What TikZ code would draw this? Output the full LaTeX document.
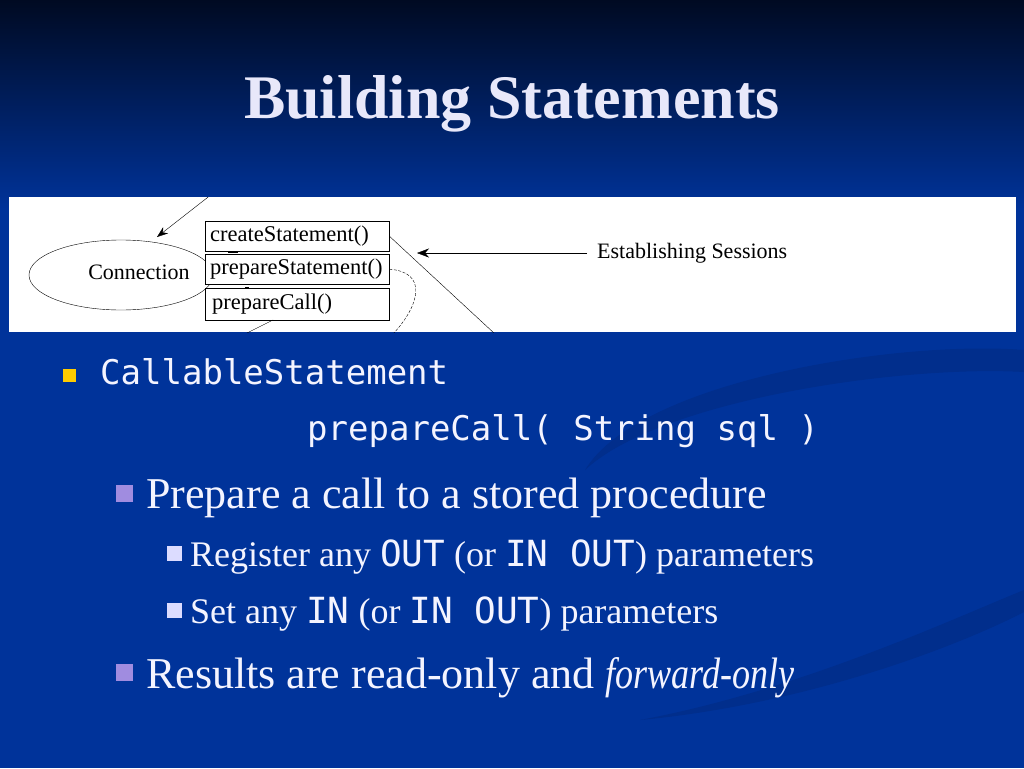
\documentclass[tikz,border=0pt]{standalone}
\usepackage{fontspec}
\setmainfont{Liberation Serif}
\setmonofont{DejaVu Sans Mono}
\usetikzlibrary{arrows.meta,shapes.geometric}

\definecolor{slidetop}{HTML}{000A22}
\definecolor{slideblue}{HTML}{00339A}
\definecolor{swoosh}{HTML}{012E8C}
\definecolor{titletext}{HTML}{E8E8FA}
\definecolor{bodytext}{HTML}{F4F4FF}
\definecolor{yellowbullet}{HTML}{FFCC00}
\definecolor{lavbullet}{HTML}{A08CE0}
\definecolor{palebullet}{HTML}{DCDCFF}

\begin{document}
\begin{tikzpicture}[x=1pt,y=-1pt]
    \tikzset{Method/.style = {draw, thin, fill=white, minimum width=184pt, minimum height=30pt,
                              inner xsep=5pt, inner ysep=3pt, anchor=north west, text width=174pt, align=left,
                              font=\fontsize{22.5}{24}\selectfont},
             DiagText/.style = {font=\fontsize{22}{24}\selectfont},
             Body/.style = {text=bodytext, anchor=base west, inner sep=0pt},
             Square/.style = {minimum size=#1, inner sep=0pt, anchor=north west}}
    % background
    \fill[top color=slidetop, bottom color=slideblue] (0,0) rectangle (1024,210);
    \fill[slideblue] (0,210) rectangle (1024,768);
    \fill[swoosh] (585,470) .. controls (640,380) and (900,340) .. (1024,350) -- (1024,372)
        .. controls (900,365) and (660,400) .. (585,470);
    \fill[swoosh] (640,720) .. controls (800,690) and (950,620) .. (1024,590) -- (1024,612)
        .. controls (950,650) and (800,705) .. (640,720);
    \useasboundingbox (0,0) rectangle (1024,768);
    % title
    \node[text=titletext, font=\fontsize{62}{70}\selectfont\bfseries, anchor=base] (title) at (512,118) {Building Statements};
    % diagram panel
    \fill[white] (9,197) rectangle (1016,332);
    \begin{scope}
    \clip (9,197) rectangle (1016,332);
    \node[draw, thin, ellipse, minimum width=184pt, minimum height=70pt] (conn) at (121,275) {};
    \node[DiagText] (connlabel) at (139,272) {Connection};
    \coordinate (topin) at (212,194);
    \draw[-{Stealth[length=11pt,width=8pt]}] (topin) -- (157,237);
    \draw[very thick] (228,252) -- (238,252);
    \draw[very thick] (245,288) -- (249,288);
    \node[Method] (create) at (205,221) {createStatement()};
    \node[Method] (prepare) at (205,254) {prepareStatement()};
    \node[Method, minimum height=32pt, text width=170pt, inner xsep=7pt] (call) at (205,288) {prepareCall()};
    \coordinate (diagend) at (495,334);
    \draw (create.east) -- (diagend);
    \coordinate (curveend) at (393,334);
    \draw[dash pattern=on 3pt off 1.5pt] (prepare.east) .. controls (428,272) and (420,305) .. (curveend);
    \coordinate (callstart) at (273,320);
    \coordinate (callend) at (245,334);
    \draw (callstart) -- (callend);
    \node[DiagText, anchor=west, inner sep=0pt] (sessions) at (597,253) {Establishing Sessions};
    \coordinate (sesstail) at (587,253);
    \draw[-{Stealth[length=12pt,width=9pt]}] (sesstail) -- (417,253);
    \end{scope}
    % bullets
    \node[Square=13pt, fill=yellowbullet] (b1) at (63,369) {};
    \node[Body, font=\fontsize{34}{40}\ttfamily] (callable) at (100,384) {CallableStatement};
    \node[Body, font=\fontsize{34}{40}\ttfamily] (sig) at (307,440) {prepareCall( String sql )};
    \node[Square=17pt, fill=lavbullet] (b2) at (116,485) {};
    \node[Body, font=\fontsize{44}{50}\selectfont] (prep) at (146,508) {Prepare a call to a stored procedure};
    \node[Square=15pt, fill=palebullet] (b3) at (167,546) {};
    \node[Body, font=\fontsize{36}{42}\selectfont] (reg) at (190,566) {Register any \texttt{OUT} (or \texttt{IN OUT}) parameters};
    \node[Square=15pt, fill=palebullet] (b4) at (167,603) {};
    \node[Body, font=\fontsize{36}{42}\selectfont] (set) at (190,623) {Set any \texttt{IN} (or \texttt{IN OUT}) parameters};
    \node[Square=17pt, fill=lavbullet] (b5) at (116,664) {};
    \node[Body, font=\fontsize{44}{50}\selectfont] (res) at (146,688) {Results are read-only and \scalebox{0.82}[1]{\textit{forward-only}}};
\end{tikzpicture}
\end{document}
